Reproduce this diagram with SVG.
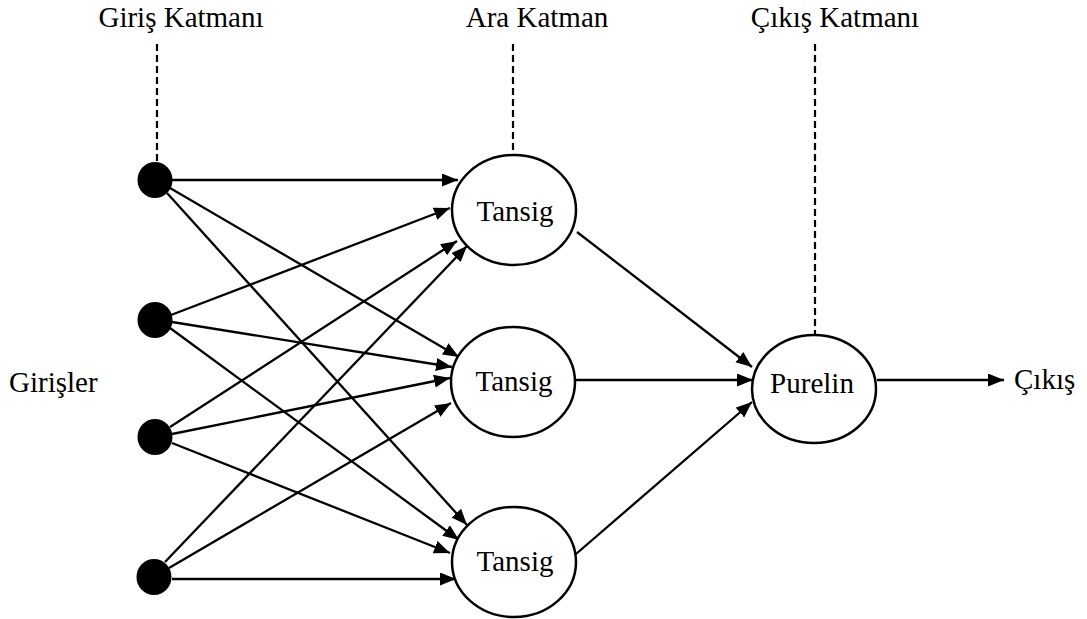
<svg xmlns="http://www.w3.org/2000/svg" width="1087" height="619" viewBox="0 0 1087 619">
<style>
text{font-family:"Liberation Serif","Times New Roman",serif;font-size:29px;fill:#000}
.c{stroke:#000;stroke-width:2.3;fill:none}
.n{stroke:#000;stroke-width:2.5;fill:#fff}
.d{stroke:#000;stroke-width:2.2;stroke-dasharray:7,4;fill:none}
.in{fill:#000}
</style>
<defs>
<marker id="ah" markerUnits="userSpaceOnUse" markerWidth="18" markerHeight="14" refX="16" refY="6.5" orient="auto">
<path d="M0,0 L16,6.5 L0,13 z" fill="#000"/>
</marker>
</defs>
<g id="labels">
<text x="181" y="27" text-anchor="middle">Giriş Katmanı</text>
<text x="537" y="27" text-anchor="middle">Ara Katman</text>
<text x="835" y="27" text-anchor="middle">Çıkış Katmanı</text>
<text x="9" y="392">Girişler</text>
<text x="1014" y="389">Çıkış</text>
</g>
<g id="dashes">
<line class="d" x1="157" y1="44" x2="157" y2="162"/>
<line class="d" x1="513" y1="44" x2="513" y2="155"/>
<line class="d" x1="815" y1="44" x2="815" y2="335"/>
</g>
<g id="connectors" class="c" marker-end="url(#ah)">
<line x1="172" y1="180" x2="458" y2="180"/>
<line x1="170" y1="188" x2="459" y2="357"/>
<line x1="167" y1="193" x2="467" y2="525"/>
<line x1="171" y1="315" x2="450" y2="208"/>
<line x1="172" y1="322" x2="452" y2="367"/>
<line x1="170" y1="328" x2="459" y2="540"/>
<line x1="170" y1="427" x2="457" y2="241"/>
<line x1="172" y1="434" x2="450" y2="378"/>
<line x1="172" y1="443" x2="450" y2="553"/>
<line x1="165" y1="562" x2="467" y2="246"/>
<line x1="169" y1="568" x2="451" y2="403"/>
<line x1="172" y1="579" x2="456" y2="579"/>
<line x1="577" y1="232" x2="752" y2="367"/>
<line x1="576" y1="380" x2="753" y2="380"/>
<line x1="576" y1="554" x2="752" y2="402"/>
<line x1="877" y1="380" x2="1004" y2="380"/>
</g>
<g id="in1"><ellipse class="in" cx="155" cy="180" rx="17.5" ry="18"/></g>
<g id="in2"><ellipse class="in" cx="155" cy="320" rx="17.5" ry="18"/></g>
<g id="in3"><ellipse class="in" cx="155" cy="437" rx="17.5" ry="18"/></g>
<g id="in4"><ellipse class="in" cx="154" cy="577" rx="17.5" ry="18"/></g>
<g id="tansig1"><ellipse class="n" cx="514" cy="210" rx="62" ry="55"/><text x="515" y="221" text-anchor="middle">Tansig</text></g>
<g id="tansig2"><ellipse class="n" cx="513" cy="382" rx="62" ry="55"/><text x="514" y="391" text-anchor="middle">Tansig</text></g>
<g id="tansig3"><ellipse class="n" cx="514" cy="562" rx="62" ry="55"/><text x="515" y="571" text-anchor="middle">Tansig</text></g>
<g id="purelin"><ellipse class="n" cx="814" cy="389" rx="62" ry="54"/><text x="812" y="393" text-anchor="middle">Purelin</text></g>
</svg>
